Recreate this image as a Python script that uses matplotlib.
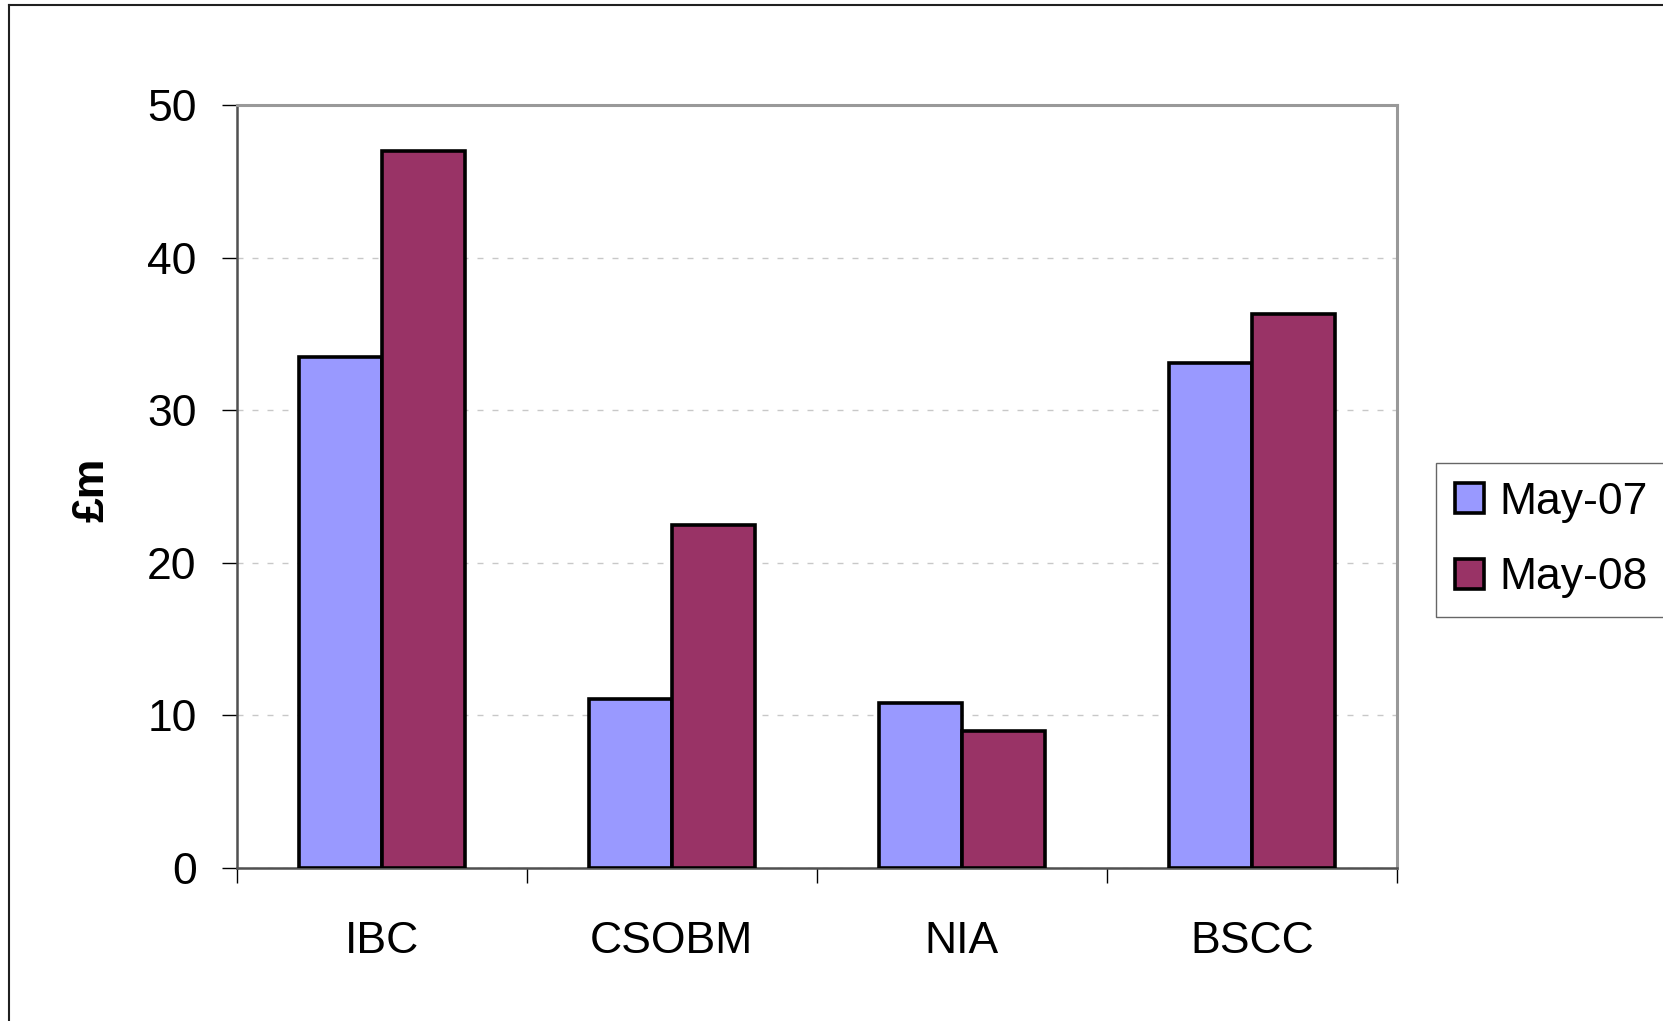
import matplotlib
matplotlib.use("Agg")
import matplotlib.pyplot as plt
from matplotlib.lines import Line2D
import numpy as np

plt.rcParams['font.family'] = ['Liberation Sans', 'DejaVu Sans']

categories = ['IBC', 'CSOBM', 'NIA', 'BSCC']
series_names = ['May-07', 'May-08']
may07 = [33.5, 11.1, 10.8, 33.1]
may08 = [47.0, 22.5, 9.0, 36.3]
yticks = [0, 10, 20, 30, 40, 50]
colors = ['#9999FF', '#993366']

W, H = 1663, 1021
fig = plt.figure(figsize=(W / 100, H / 100), dpi=100)
ax = fig.add_axes([236.7 / W, 1 - 868 / H, (1397 - 236.7) / W, (868 - 105) / H])

x = np.arange(len(categories))
bw = 1 / 3.5
ax.bar(x - bw / 2, may07, width=bw, color=colors[0], edgecolor='black', linewidth=2.6, label=series_names[0], zorder=3)
ax.bar(x + bw / 2, may08, width=bw, color=colors[1], edgecolor='black', linewidth=2.6, label=series_names[1], zorder=3)

ax.set_xlim(-0.5, len(categories) - 0.5)
ax.set_ylim(0, 50)
ax.set_yticks(yticks)
ax.set_yticklabels([str(v) for v in yticks], fontsize=32)

# category labels at centres, ticks at boundaries
ax.set_xticks(x)
ax.set_xticklabels(categories, fontsize=32)
ax.tick_params(axis='x', which='major', length=0, pad=38)
ax.set_xticks(np.arange(len(categories) + 1) - 0.5, minor=True)
ax.tick_params(axis='x', which='minor', length=10.8, width=1, color='black', direction='out')
ax.tick_params(axis='y', which='major', length=10.8, width=1, color='black', direction='out', pad=18)

ax.yaxis.grid(True, color='#c8c8c8', linewidth=1, linestyle=(0, (4.3, 6.5)), zorder=0)
ax.set_axisbelow(True)
for s in ['top', 'right']:
    ax.spines[s].set_color('#999999')
    ax.spines[s].set_linewidth(2.2)
for s in ['left', 'bottom']:
    ax.spines[s].set_color('#505050')
    ax.spines[s].set_linewidth(1.8)

fig.text(92 / W, 1 - 490 / H, '£m', rotation=90, fontsize=32, fontweight='bold',
         ha='center', va='center')

leg = ax.legend(loc='upper left', bbox_to_anchor=(1436 / W, 1 - 463 / H), bbox_transform=fig.transFigure,
                borderaxespad=0, fontsize=32, frameon=True, fancybox=False, handlelength=0.65,
                handleheight=0.65, handletextpad=0.36, borderpad=0.42, labelspacing=0.78)
leg.get_frame().set_edgecolor('#404040')
leg.get_frame().set_linewidth(1)
for h in leg.legend_handles:
    h.set_linewidth(2.6)

# outer chart border
fig.add_artist(Line2D([9 / W, 9 / W], [0, 1 - 5 / H], color='#202020', linewidth=1.5, transform=fig.transFigure))
fig.add_artist(Line2D([9 / W, 1], [1 - 5 / H, 1 - 5 / H], color='#202020', linewidth=1.5, transform=fig.transFigure))

fig.savefig('out.png', dpi=100, facecolor='white')
